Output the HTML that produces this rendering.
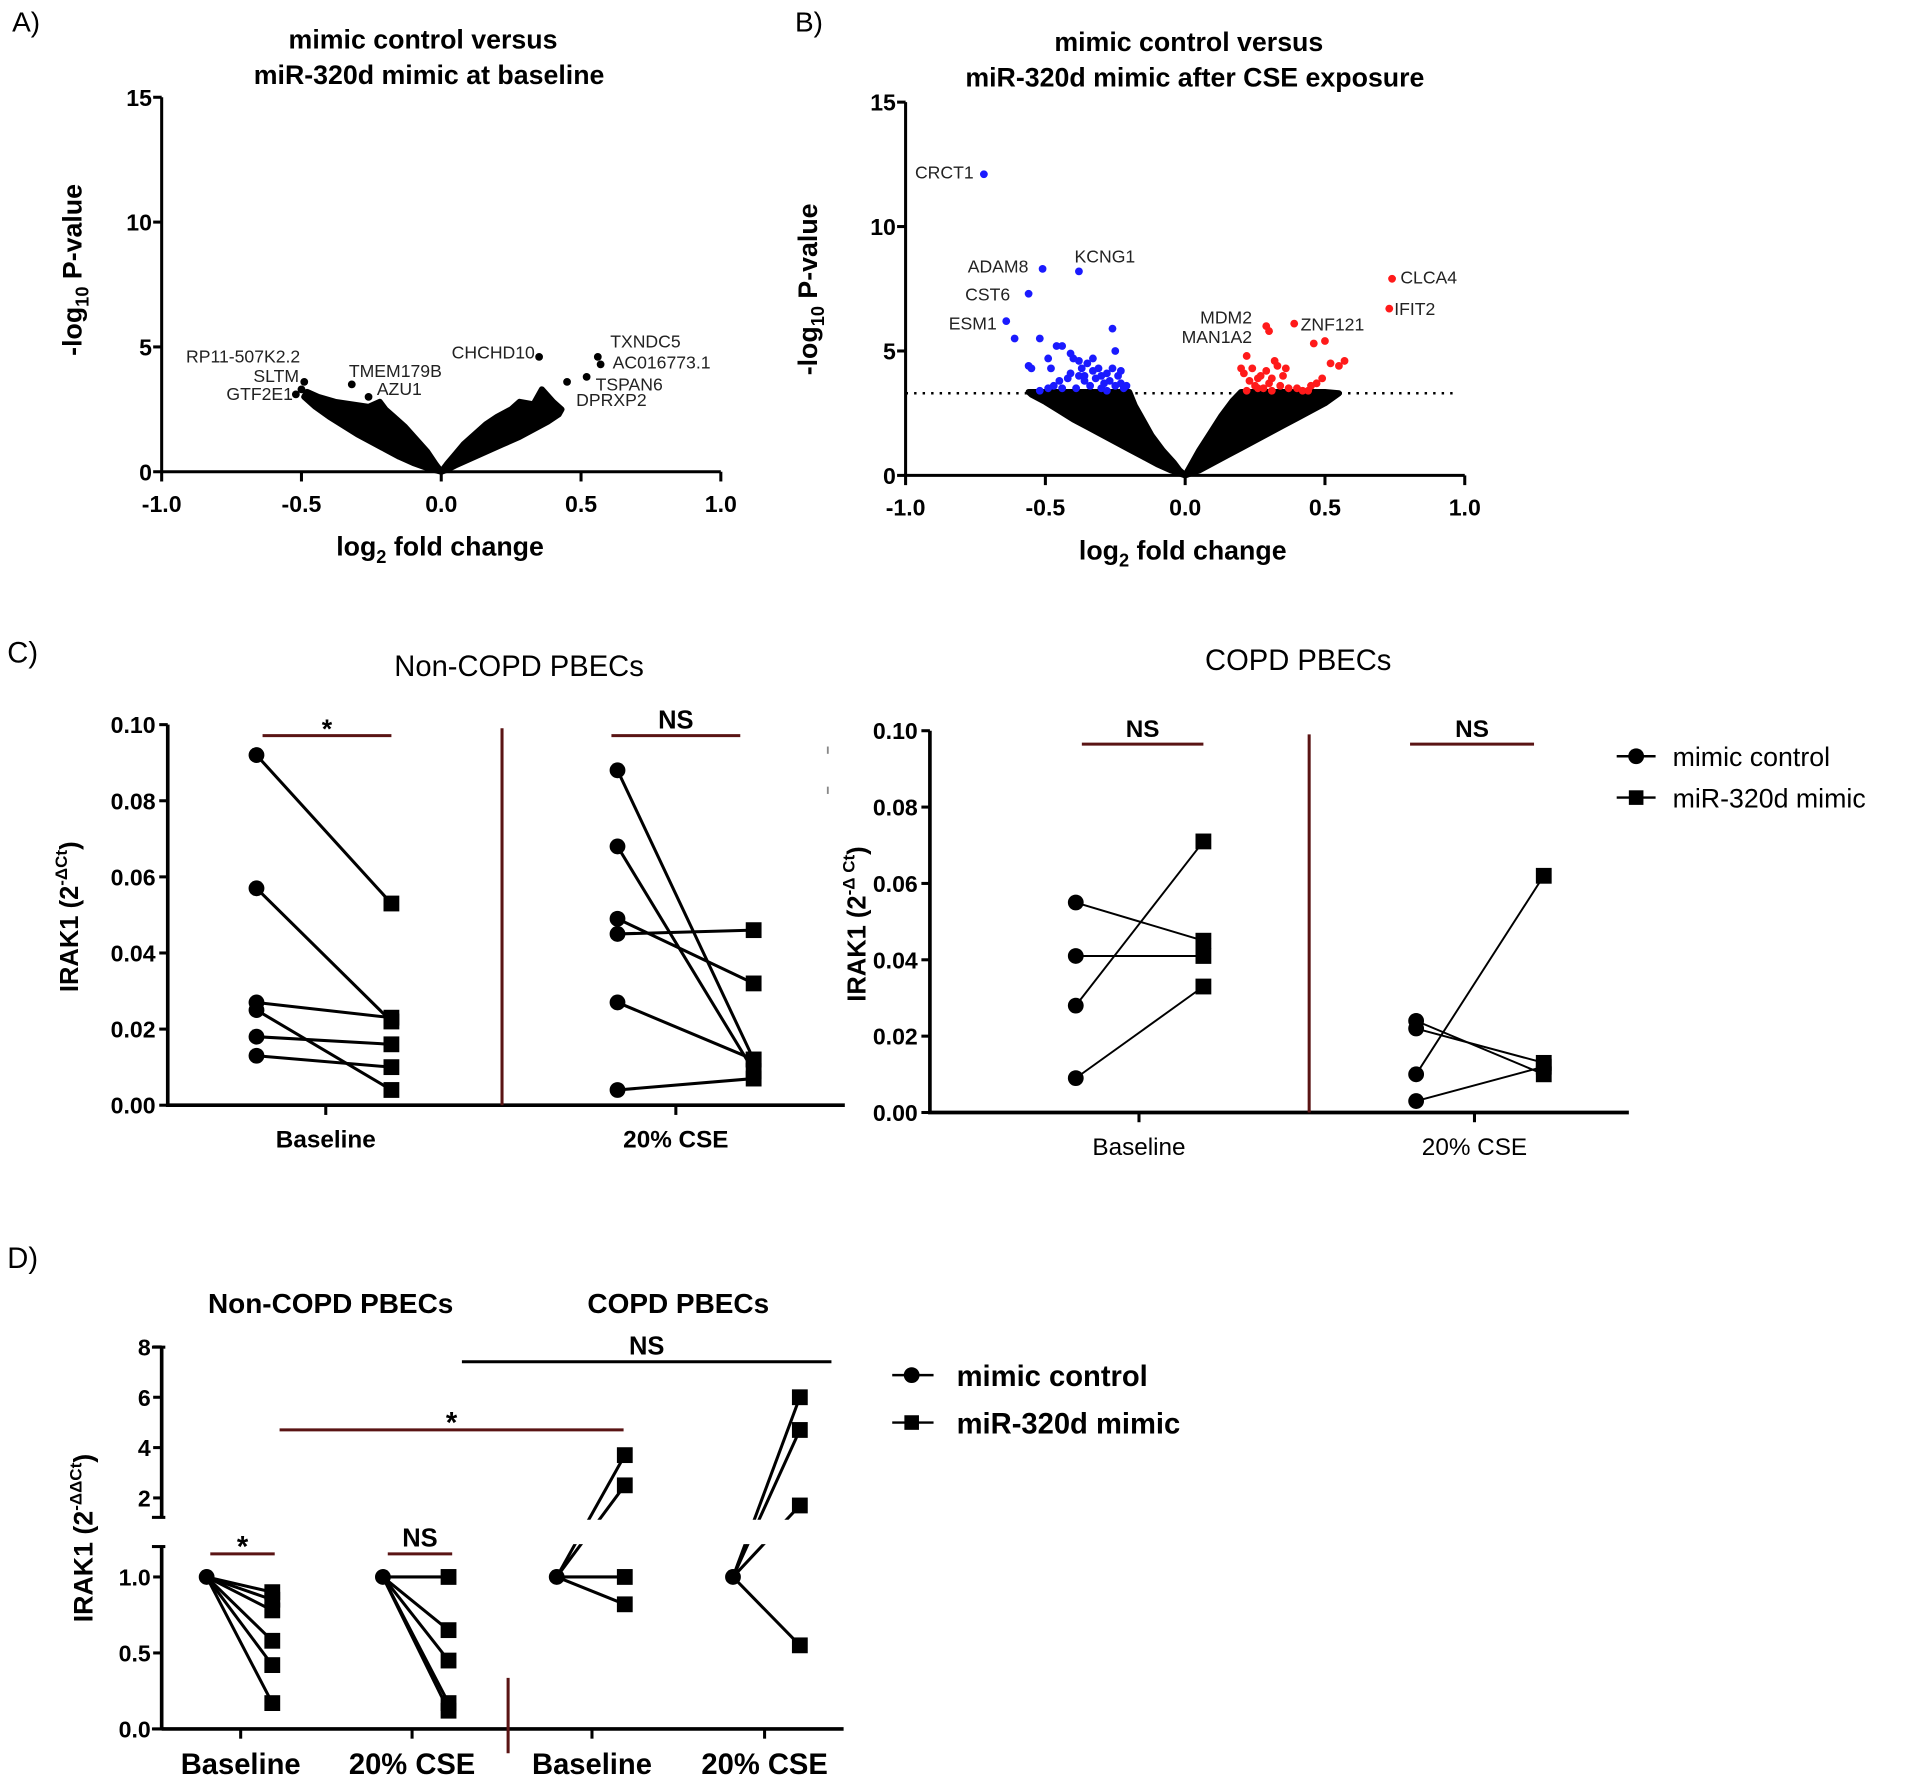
<!DOCTYPE html>
<html><head><meta charset="utf-8"><style>
html,body{margin:0;padding:0;background:#fff;}
svg{display:block;}
text{font-family:"Liberation Sans",sans-serif;fill:#000;}
.b{font-weight:bold;}
.tk{font-weight:bold;font-size:19px;}
.gl{font-size:14.5px;fill:#222;}
.nb{font-family:"Liberation Sans Narrow","Liberation Sans",sans-serif;}
</style></head><body>
<svg id="fig" width="1906" height="1780" viewBox="0 0 1568 1464" preserveAspectRatio="none" xmlns="http://www.w3.org/2000/svg">
<g>
<text x="10" y="26" font-size="23">A)</text>
<text x="348" y="40" font-size="22" class="b" text-anchor="middle">mimic control versus</text>
<text x="353" y="69" font-size="22" class="b" text-anchor="middle">miR-320d mimic at baseline</text>
<text transform="translate(67,222) rotate(-90)" font-size="22" class="b" text-anchor="middle">-log<tspan font-size="15" dy="6">10</tspan><tspan dy="-6"> P-value</tspan></text>
<text x="362" y="457" font-size="22" class="b" text-anchor="middle">log<tspan font-size="15" dy="6">2</tspan><tspan dy="-6"> fold change</tspan></text>
<g id="ga"></g>
</g>
<g>
<text x="654" y="26" font-size="23">B)</text>
<text x="978" y="42" font-size="22" class="b" text-anchor="middle">mimic control versus</text>
<text x="983" y="71" font-size="22" class="b" text-anchor="middle">miR-320d mimic after CSE exposure</text>
<text transform="translate(672,238) rotate(-90)" font-size="22" class="b" text-anchor="middle">-log<tspan font-size="15" dy="6">10</tspan><tspan dy="-6"> P-value</tspan></text>
<text x="973" y="460" font-size="22" class="b" text-anchor="middle">log<tspan font-size="15" dy="6">2</tspan><tspan dy="-6"> fold change</tspan></text>
<g id="gb"></g>
</g>
<g>
<text x="6" y="545" font-size="24" class="nb">C)</text>
<text x="427" y="556" font-size="24" class="nb" text-anchor="middle">Non-COPD  PBECs</text>
<text x="1068" y="551" font-size="24" class="nb" text-anchor="middle">COPD  PBECs</text>
<text transform="translate(64,754) rotate(-90)" font-size="21" class="b" text-anchor="middle">IRAK1 (2<tspan font-size="14" dy="-9">-ΔCt</tspan><tspan dy="9">)</tspan></text>
<text transform="translate(712,760) rotate(-90)" font-size="21" class="b" text-anchor="middle">IRAK1 (2<tspan font-size="14" dy="-9">-Δ Ct</tspan><tspan dy="9">)</tspan></text>
<g id="gcl"></g><g id="gcr"></g>
<g>
<line x1="1330" y1="622" x2="1362" y2="622" stroke="#000" stroke-width="2"/>
<circle cx="1346" cy="622" r="6.5" fill="#000"/>
<text x="1376" y="630" font-size="22">mimic control</text>
<line x1="1330" y1="656" x2="1362" y2="656" stroke="#000" stroke-width="2"/>
<rect x="1340" y="650" width="12" height="12" fill="#000"/>
<text x="1376" y="664" font-size="22">miR-320d mimic</text>
</g>
</g>
<g>
<text x="6" y="1043" font-size="24" class="nb">D)</text>
<text x="272" y="1080" font-size="23" class="b" text-anchor="middle">Non-COPD PBECs</text>
<text x="558" y="1080" font-size="23" class="b" text-anchor="middle">COPD PBECs</text>
<text transform="translate(76,1265) rotate(-90)" font-size="22" class="b" text-anchor="middle">IRAK1 (2<tspan font-size="14" dy="-9">-ΔΔCt</tspan><tspan dy="9">)</tspan></text>
<g id="gd"></g>
<g>
<line x1="734" y1="1131" x2="768" y2="1131" stroke="#000" stroke-width="2"/>
<circle cx="750" cy="1131" r="6.5" fill="#000"/>
<text x="787" y="1140" font-size="24" class="b">mimic control</text>
<line x1="734" y1="1170" x2="768" y2="1170" stroke="#000" stroke-width="2"/>
<rect x="744" y="1164" width="12" height="12" fill="#000"/>
<text x="787" y="1179" font-size="24" class="b">miR-320d mimic</text>
</g>
</g>
</svg>
<script>
// ---------- data ----------
const volcanoXTicks = [-1.0, -0.5, 0.0, 0.5, 1.0];
const volcanoYTicks = [0, 5, 10, 15];
const aGenes = ["TXNDC5","AC016773.1","TSPAN6","DPRXP2","CHCHD10","RP11-507K2.2","SLTM","GTF2E1","TMEM179B","AZU1"];
const aGeneX = [0.56,0.57,0.52,0.45,0.35,-0.49,-0.50,-0.52,-0.32,-0.26];
const aGeneY = [4.6,4.3,3.8,3.6,4.6,3.6,3.3,3.1,3.5,3.0];
const aLeftCloudX = [0,-0.05,-0.1,-0.15,-0.2,-0.25,-0.3,-0.35,-0.4,-0.45,-0.49,-0.48,-0.44,-0.38,-0.32,-0.26,-0.22,-0.2,-0.17,-0.13,-0.09,-0.05,-0.02];
const aLeftCloudY = [0.0,0.15,0.35,0.6,0.9,1.2,1.5,1.85,2.2,2.6,3.0,3.2,3.0,2.8,2.7,2.6,2.8,2.5,2.2,1.8,1.3,0.8,0.3];
const aRightCloudX = [0,0.02,0.05,0.08,0.12,0.16,0.2,0.25,0.28,0.33,0.36,0.4,0.43,0.42,0.38,0.33,0.28,0.22,0.16,0.1,0.05,0.02];
const aRightCloudY = [0.0,0.3,0.7,1.1,1.5,1.9,2.2,2.5,2.8,2.7,3.3,2.8,2.5,2.3,2.0,1.7,1.4,1.1,0.8,0.5,0.25,0.08];
const bGenes = ["CRCT1","ADAM8","KCNG1","CST6","ESM1","CLCA4","IFIT2","MDM2","MAN1A2","ZNF121"];
const bGeneX = [-0.72,-0.51,-0.38,-0.56,-0.64,0.74,0.73,0.29,0.30,0.39];
const bGeneY = [12.1,8.3,8.2,7.3,6.2,7.9,6.7,6.0,5.8,6.1];
const bBlueX = [-0.61,-0.52,-0.46,-0.44,-0.56,-0.55,-0.49,-0.48,-0.41,-0.40,-0.38,-0.37,-0.36,-0.35,-0.33,-0.32,-0.31,-0.30,-0.29,-0.28,-0.27,-0.26,-0.25,-0.24,-0.23,-0.22,-0.26,-0.25,-0.47,-0.49,-0.44,-0.42,-0.39,-0.34,-0.30,-0.28,-0.36,-0.52,-0.45,-0.41,-0.33,-0.21,-0.23,-0.38];
const bBlueY = [5.5,5.5,5.2,5.2,4.4,4.3,4.7,4.3,4.9,4.7,4.6,4.3,4.0,4.5,4.2,3.9,4.3,4.0,3.7,4.1,3.8,4.3,3.6,4.0,3.7,3.5,5.9,5.0,3.6,3.5,3.5,3.9,3.5,3.6,3.5,3.4,3.8,3.4,3.8,4.1,4.7,3.6,4.2,4.0];
const bRedX = [0.22,0.20,0.21,0.23,0.24,0.25,0.26,0.27,0.28,0.29,0.30,0.31,0.32,0.33,0.34,0.35,0.37,0.40,0.42,0.45,0.47,0.46,0.50,0.52,0.55,0.57,0.49,0.36,0.22,0.26,0.44,0.31];
const bRedY = [4.8,4.3,4.1,3.8,4.3,3.6,3.9,4.0,3.5,4.2,3.7,3.9,4.6,4.4,3.6,4.0,3.5,3.5,3.4,3.6,3.7,5.3,5.4,4.5,4.4,4.6,3.9,4.3,3.4,3.5,3.4,3.4];
const bThreshold = 3.3;
const bLeftCloudX = [0,-0.05,-0.1,-0.15,-0.2,-0.25,-0.3,-0.35,-0.4,-0.45,-0.5,-0.55,-0.56,-0.45,-0.3,-0.2,-0.18,-0.15,-0.12,-0.08,-0.04,-0.02];
const bLeftCloudY = [0.0,0.2,0.45,0.75,1.05,1.35,1.65,1.95,2.25,2.6,2.95,3.25,3.35,3.35,3.35,3.35,2.8,2.2,1.6,1.0,0.5,0.2];
const bRightCloudX = [0,0.02,0.05,0.09,0.13,0.17,0.2,0.3,0.4,0.5,0.55,0.5,0.45,0.4,0.35,0.3,0.25,0.2,0.15,0.1,0.05];
const bRightCloudY = [0.0,0.4,1.0,1.7,2.4,3.0,3.35,3.35,3.35,3.35,3.3,2.9,2.6,2.3,2.0,1.7,1.4,1.1,0.8,0.5,0.2];

const cTicks = [0.00,0.02,0.04,0.06,0.08,0.10];
const cGroups = ["Baseline","20% CSE"];
const cNonBaseCtrl = [0.092,0.057,0.027,0.025,0.018,0.013];
const cNonBaseMimic = [0.053,0.022,0.023,0.004,0.016,0.010];
const cNonCseCtrl = [0.088,0.068,0.049,0.045,0.027,0.004];
const cNonCseMimic = [0.012,0.009,0.032,0.046,0.012,0.007];
const cCopdBaseCtrl = [0.055,0.041,0.028,0.009];
const cCopdBaseMimic = [0.045,0.041,0.071,0.033];
const cCopdCseCtrl = [0.024,0.022,0.010,0.003];
const cCopdCseMimic = [0.010,0.013,0.062,0.012];

const dLowTicks = [0.0,0.5,1.0];
const dHighTicks = [2,4,6,8];
const dGroups = ["Baseline","20% CSE","Baseline","20% CSE"];
const dCtrl = [1,1,1,1];
const dNonBase = [0.9,0.85,0.78,0.58,0.42,0.17];
const dNonCse = [1.0,0.65,0.45,0.17,0.12];
const dCopdBase = [3.7,2.5,1.0,0.82];
const dCopdCse = [6.0,4.7,1.7,0.55];

// ---------- helpers ----------
const NS='http://www.w3.org/2000/svg';
function mk(parent, tag, attrs){const e=document.createElementNS(NS,tag);for(const k in attrs)e.setAttribute(k,attrs[k]);parent.appendChild(e);return e;}
const fmt2=v=>v.toFixed(2), fmt1=v=>v.toFixed(1);

function volcano(g, x0, y0, ytop, prefix){
  const sx=v=>x0+v*230, sy=v=>y0-v*(y0-ytop)/15;
  const ax=mk(g,'path',{d:`M${sx(-1)} ${ytop} L${sx(-1)} ${y0} L${sx(1)} ${y0}`,fill:'none',stroke:'#000','stroke-width':2.5});
  
  
  volcanoYTicks.forEach(t=>{
    const l=mk(g,'line',{x1:sx(-1)-7,x2:sx(-1),y1:sy(t),y2:sy(t),stroke:'#000','stroke-width':2.5});
    
    
    const tx=mk(g,'text',{x:sx(-1)-8,y:sy(t)+7,'text-anchor':'end',class:'tk','font-size':20});
    tx.textContent=String(t);
    
    
  });
  volcanoXTicks.forEach(t=>{
    const l=mk(g,'line',{x1:sx(t),x2:sx(t),y1:y0,y2:y0+8,stroke:'#000','stroke-width':2.5});
    
    
    const tx=mk(g,'text',{x:sx(t),y:y0+33,'text-anchor':'middle',class:'tk','font-size':20});
    tx.textContent=fmt1(t);
    
    
  });
  return {sx,sy};
}
function cloud(g,s,xs,ys,name){
  const p=mk(g,'polygon',{points:xs.map((x,i)=>s.sx(x)+','+s.sy(ys[i])).join(' '),fill:'#000',stroke:'#000','stroke-width':5,'stroke-linejoin':'round'});
  
  
}
function pts(g,s,xs,ys,color,name){
  xs.forEach((x,i)=>{
    const c=mk(g,'circle',{cx:s.sx(x),cy:s.sy(ys[i]),r:3.2,fill:color});
    
    
  });
}
const ga=document.getElementById('ga');
const sA=volcano(ga,363,388,80,'panel-a');
cloud(ga,sA,aLeftCloudX,aLeftCloudY,'panel-a-left-cloud');
cloud(ga,sA,aRightCloudX,aRightCloudY,'panel-a-right-cloud');
pts(ga,sA,aGeneX,aGeneY,'#000','panel-a-gene-point');
const aLab=[[502,286,'start'],[504,303,'start'],[490,321,'start'],[474,334,'start'],[440,295,'end'],[247,298,'end'],[246,314,'end'],[241,329,'end'],[287,310,'start'],[310,325,'start']];
aGenes.forEach((n,i)=>{
  const t=mk(ga,'text',{x:aLab[i][0],y:aLab[i][1],'text-anchor':aLab[i][2],class:'gl'});
  t.textContent=n;
  
  
});
const gb=document.getElementById('gb');
const sB=volcano(gb,975,391,84,'panel-b');
cloud(gb,sB,bLeftCloudX,bLeftCloudY,'panel-b-left-cloud');
cloud(gb,sB,bRightCloudX,bRightCloudY,'panel-b-right-cloud');
const th=mk(gb,'line',{x1:sB.sx(-1),x2:1197,y1:sB.sy(bThreshold),y2:sB.sy(bThreshold),stroke:'#000','stroke-width':2,'stroke-dasharray':'2 5'});


pts(gb,sB,bBlueX,bBlueY,'#1a1aff','panel-b-down-point');
pts(gb,sB,bRedX,bRedY,'#ff1a1a','panel-b-up-point');
bGeneX.forEach((x,i)=>{
  const c=mk(gb,'circle',{cx:sB.sx(x),cy:sB.sy(bGeneY[i]),r:3.2,fill:x<0?'#1a1aff':'#ff1a1a'});
  
  
});
const bLab=[[801,147,'end'],[846,224,'end'],[884,216,'start'],[831,247,'end'],[820,271,'end'],[1152,233,'start'],[1147,259,'start'],[1030,266,'end'],[1030,282,'end'],[1070,272,'start']];
bGenes.forEach((n,i)=>{
  const t=mk(gb,'text',{x:bLab[i][0],y:bLab[i][1],'text-anchor':bLab[i][2],class:'gl'});
  t.textContent=n;
  
  
});

function marker(g,shape,x,y,r,name){
  let e;
  if(shape==='c') e=mk(g,'circle',{cx:x,cy:y,r:r,fill:'#000'});
  else e=mk(g,'rect',{x:x-r,y:y-r,width:2*r,height:2*r,fill:'#000'});
  
  
}
function paired(g,sy,cx,mx,ctrl,mim,lw,prefix){
  ctrl.forEach((v,i)=>{
    const l=mk(g,'line',{x1:cx,y1:sy(v),x2:mx,y2:sy(mim[i]),stroke:'#000','stroke-width':lw});
    
    
  });
  ctrl.forEach(v=>marker(g,'c',cx,sy(v),6.5,prefix+'-control-point'));
  mim.forEach(v=>marker(g,'s',mx,sy(v),6.5,prefix+'-mimic-point'));
}
function sig(g,x1,x2,y,label,color,fs,name){
  const l=mk(g,'line',{x1:x1,x2:x2,y1:y,y2:y,stroke:color,'stroke-width':2.5});
  
  
  const t=mk(g,'text',{x:(x1+x2)/2,y:y-(label==='*'?-2:6),'text-anchor':'middle','font-size':fs,class:'b'});
  t.textContent=label;
  
  
}
function cPanel(g,ax,y0,ytop,xEnd,divX,tickX,grpX,data,prefix,lw,boldX){
  const sy=v=>y0-v*(y0-ytop)/0.1;
  const a=mk(g,'path',{d:`M${ax} ${ytop} L${ax} ${y0} L${xEnd} ${y0}`,fill:'none',stroke:'#000','stroke-width':3});
  
  
  cTicks.forEach(t=>{
    const l=mk(g,'line',{x1:ax-7,x2:ax,y1:sy(t),y2:sy(t),stroke:'#000','stroke-width':2.5});
    
    
    const tx=mk(g,'text',{x:ax-10,y:sy(t)+7,'text-anchor':'end',class:'tk'});
    tx.textContent=fmt2(t);
    
    
  });
  cGroups.forEach((gname,i)=>{
    const l=mk(g,'line',{x1:tickX[i],x2:tickX[i],y1:y0,y2:y0+8,stroke:'#000','stroke-width':2.5});
    
    
    const tx=mk(g,'text',{x:tickX[i],y:y0+35,'text-anchor':'middle',class:boldX?'b':'','font-size':20});
    tx.textContent=gname;
    
    
  });
  const d=mk(g,'line',{x1:divX,x2:divX,y1:ytop+3,y2:y0,stroke:'#5a1414','stroke-width':2.5});
  
  
  paired(g,sy,grpX[0],grpX[1],data[0],data[1],lw,prefix+'-baseline');
  paired(g,sy,grpX[2],grpX[3],data[2],data[3],lw,prefix+'-cse');
}
const gcl=document.getElementById('gcl');
cPanel(gcl,138,909,596,695,413,[268,556],[211,322,508,620],[cNonBaseCtrl,cNonBaseMimic,cNonCseCtrl,cNonCseMimic],'panel-c-left',2.5,true);
sig(gcl,216,322,605,'*','#5a1414',22,'panel-c-left-baseline-sig');
sig(gcl,503,609,605,'NS','#5a1414',21,'panel-c-left-cse-sig');
[617,650].forEach(y=>{const m=mk(gcl,'line',{x1:681,x2:681,y1:y-3,y2:y+3,stroke:'#888','stroke-width':1.5});

});
const gcr=document.getElementById('gcr');
cPanel(gcr,765,915,601,1340,1077,[937,1213],[885,990,1165,1270],[cCopdBaseCtrl,cCopdBaseMimic,cCopdCseCtrl,cCopdCseMimic],'panel-c-right',1.6,false);
sig(gcr,890,990,612,'NS','#5a1414',20,'panel-c-right-baseline-sig');
sig(gcr,1160,1262,612,'NS','#5a1414',20,'panel-c-right-cse-sig');

const gd=document.getElementById('gd');
const dsy=v=> v<=1.2 ? 1422-125*v : 1232-(v-2)*20.7;
const dAx=133;
const defs=mk(gd,'defs',{});
const cp=mk(defs,'clipPath',{id:'dclip'});
mk(cp,'rect',{x:0,y:0,width:1568,height:1250});
mk(cp,'rect',{x:0,y:1270,width:1568,height:200});
const segs=[[1108,1248],[1272,1422]];
segs.forEach(s=>{
  const l=mk(gd,'line',{x1:dAx,x2:dAx,y1:s[0],y2:s[1],stroke:'#000','stroke-width':3});
  
  
  [s[0],s[1]].forEach(y=>{const t=mk(gd,'line',{x1:dAx-8,x2:dAx+3,y1:y,y2:y,stroke:'#000','stroke-width':2.5});
  
  });
});
const xax=mk(gd,'line',{x1:dAx,x2:694,y1:1422,y2:1422,stroke:'#000','stroke-width':3});


dLowTicks.concat(dHighTicks).forEach(t=>{
  const l=mk(gd,'line',{x1:dAx-7,x2:dAx,y1:dsy(t),y2:dsy(t),stroke:'#000','stroke-width':2.5});
  
  
  const tx=mk(gd,'text',{x:dAx-9,y:dsy(t)+7,'text-anchor':'end',class:'tk','font-size':20});
  tx.textContent=t<2?fmt1(t):String(t);
  
  
});
const dTickX=[198,339,487,629], dCX=[170,315,458,603], dMX=[224,369,514,658];
dGroups.forEach((gname,i)=>{
  const l=mk(gd,'line',{x1:dTickX[i],x2:dTickX[i],y1:1422,y2:1430,stroke:'#000','stroke-width':2.5});
  
  
  const tx=mk(gd,'text',{x:dTickX[i],y:1459,'text-anchor':'middle',class:'b','font-size':24});
  tx.textContent=gname;
  
  
});
const dv=mk(gd,'line',{x1:418,x2:418,y1:1380,y2:1442,stroke:'#5a1414','stroke-width':2.5});


const dSets=[dNonBase,dNonCse,dCopdBase,dCopdCse];
const dlines=mk(gd,'g',{'clip-path':'url(#dclip)'});
dSets.forEach((set,gi)=>{
  set.forEach(v=>{
    const l=mk(dlines,'line',{x1:dCX[gi],y1:dsy(dCtrl[gi]),x2:dMX[gi],y2:dsy(v),stroke:'#000','stroke-width':2.5});
    
    
  });
});
dSets.forEach((set,gi)=>{
  marker(gd,'c',dCX[gi],dsy(dCtrl[gi]),6.5,'panel-d-control-point');
  set.forEach(v=>marker(gd,'s',dMX[gi],dsy(v),6.5,'panel-d-mimic-point'));
});
sig(gd,173,226,1278,'*','#5a1414',24,'panel-d-non-baseline-sig');
sig(gd,319,372,1278,'NS','#5a1414',21,'panel-d-non-cse-sig');
sig(gd,230,513,1176,'*','#5a1414',24,'panel-d-cross-sig');
sig(gd,380,684,1120,'NS','#000',21,'panel-d-copd-sig');
</script>
</body></html>
